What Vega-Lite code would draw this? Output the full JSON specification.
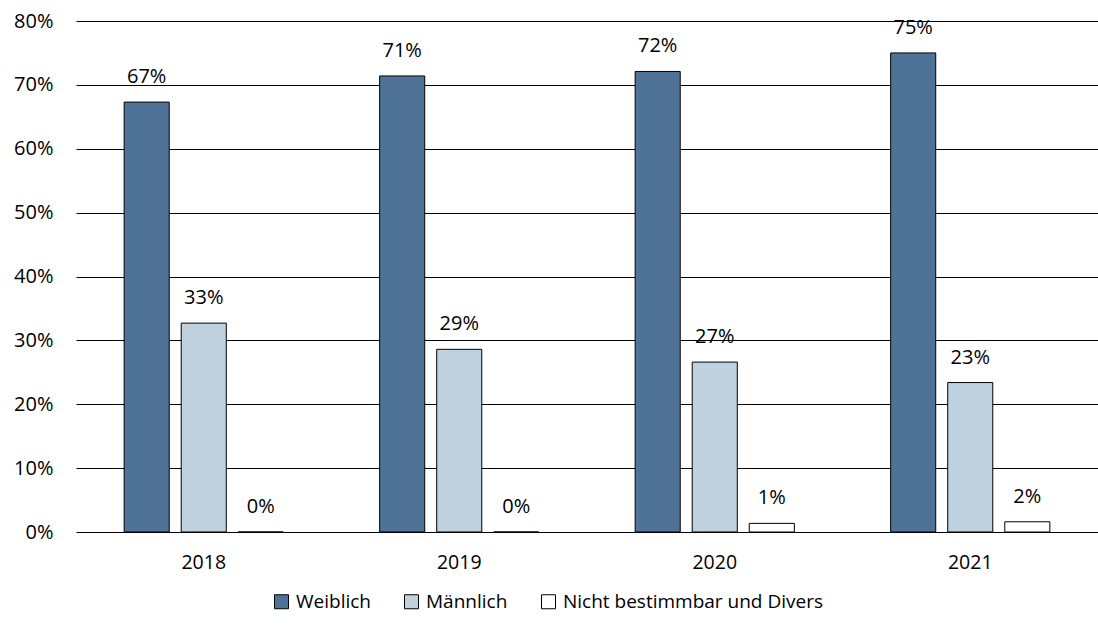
{
  "$schema": "https://vega.github.io/schema/vega-lite/v6.json",
  "autosize": "none",
  "padding": {"left": 76, "top": 21, "right": 0, "bottom": 98},
  "width": 1022,
  "height": 511,
  "background": "white",
  "config": {
    "font": "Open Sans",
    "view": {"stroke": null}
  },
  "data": {
    "values": [
      {"Jahr": "2018", "Geschlecht": "Weiblich", "Anteil": 0.673},
      {"Jahr": "2018", "Geschlecht": "Männlich", "Anteil": 0.327},
      {"Jahr": "2018", "Geschlecht": "Nicht bestimmbar und Divers", "Anteil": 0.0},
      {"Jahr": "2019", "Geschlecht": "Weiblich", "Anteil": 0.714},
      {"Jahr": "2019", "Geschlecht": "Männlich", "Anteil": 0.286},
      {"Jahr": "2019", "Geschlecht": "Nicht bestimmbar und Divers", "Anteil": 0.0},
      {"Jahr": "2020", "Geschlecht": "Weiblich", "Anteil": 0.721},
      {"Jahr": "2020", "Geschlecht": "Männlich", "Anteil": 0.266},
      {"Jahr": "2020", "Geschlecht": "Nicht bestimmbar und Divers", "Anteil": 0.0135},
      {"Jahr": "2021", "Geschlecht": "Weiblich", "Anteil": 0.750},
      {"Jahr": "2021", "Geschlecht": "Männlich", "Anteil": 0.234},
      {"Jahr": "2021", "Geschlecht": "Nicht bestimmbar und Divers", "Anteil": 0.016}
    ]
  },
  "encoding": {
    "x": {
      "field": "Jahr", "type": "nominal",
      "scale": {"paddingInner": 0.33, "paddingOuter": 0.165},
      "axis": {
        "title": null, "labelAngle": 0, "domain": false, "ticks": false,
        "labelFontSize": 19.5, "labelColor": "#000000", "labelPadding": 21,
        "labelFont": "Open Sans"
      }
    },
    "xOffset": {
      "field": "Geschlecht", "type": "nominal",
      "sort": ["Weiblich", "Männlich", "Nicht bestimmbar und Divers"],
      "scale": {"paddingInner": 0.21, "paddingOuter": 0.105}
    },
    "y": {
      "field": "Anteil", "type": "quantitative",
      "scale": {"domain": [0, 0.8], "nice": false},
      "axis": {
        "title": null, "format": ".0%", "values": [0, 0.1, 0.2, 0.3, 0.4, 0.5, 0.6, 0.7, 0.8],
        "domain": false, "ticks": false, "grid": true, "gridColor": "#000000", "gridWidth": 1,
        "labelFontSize": 20, "labelColor": "#000000", "labelPadding": 23,
        "labelFont": "Open Sans"
      }
    }
  },
  "layer": [
    {
      "mark": {"type": "bar", "stroke": "#000000", "strokeWidth": 1},
      "encoding": {
        "color": {
          "field": "Geschlecht", "type": "nominal",
          "sort": ["Weiblich", "Männlich", "Nicht bestimmbar und Divers"],
          "scale": {
            "domain": ["Weiblich", "Männlich", "Nicht bestimmbar und Divers"],
            "range": ["#4E7397", "#BFD1DF", "#FFFFFF"]
          },
          "legend": {
            "title": null, "orient": "none", "direction": "horizontal",
            "legendX": 196, "legendY": 571,
            "symbolType": "square", "symbolSize": 196, "symbolStrokeColor": "#000000",
            "symbolStrokeWidth": 1, "symbolOpacity": 1,
            "labelFontSize": 19, "labelColor": "#000000", "labelFont": "Open Sans",
            "labelOffset": 5, "columnPadding": 31, "labelLimit": 400
          }
        }
      }
    },
    {
      "mark": {"type": "text", "dy": -25, "fontSize": 20, "color": "#000000", "baseline": "middle", "font": "Open Sans"},
      "encoding": {
        "text": {"field": "Anteil", "type": "quantitative", "format": ".0%"}
      }
    }
  ]
}
